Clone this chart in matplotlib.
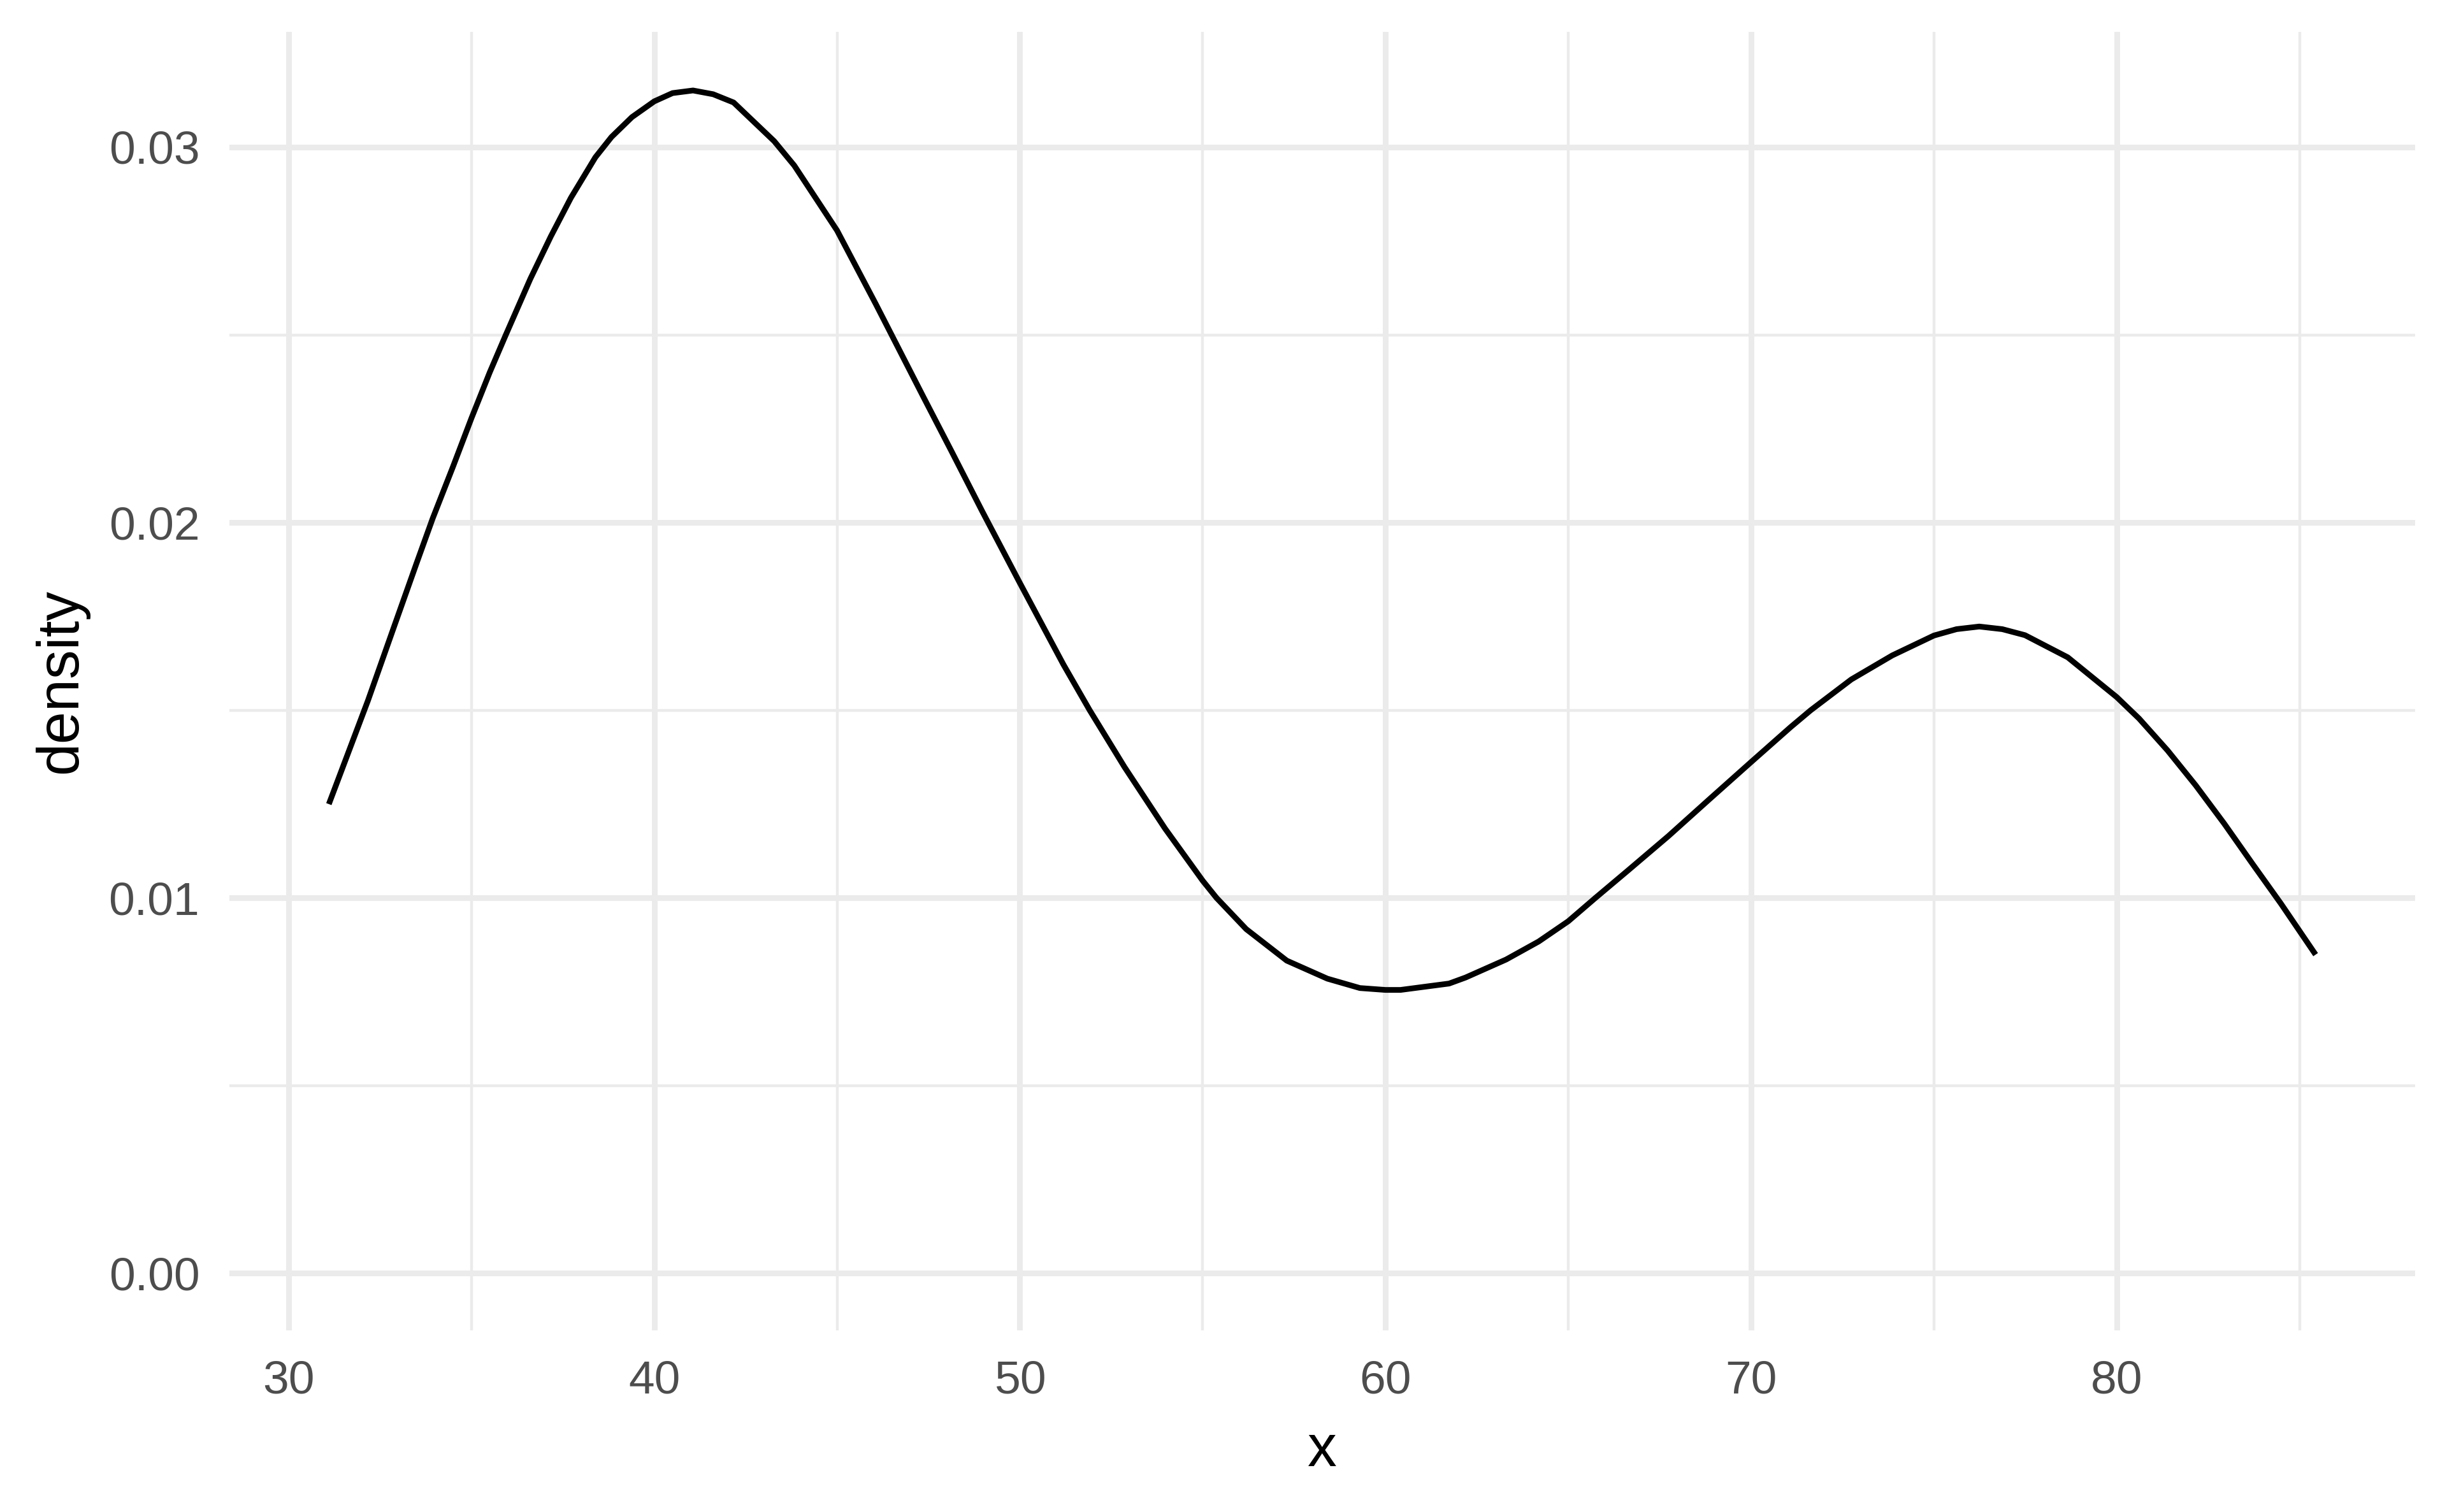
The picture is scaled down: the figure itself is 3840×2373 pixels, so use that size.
import matplotlib
matplotlib.use('Agg')
import matplotlib.pyplot as plt
from matplotlib.ticker import FixedLocator

'DATA READ OFF THE REFERENCE CURVE'

x_vals = [31.10, 32.17, 32.83, 33.50, 33.94, 34.50, 35.00, 35.50, 35.94, 36.61,
          37.17, 37.72, 38.39, 38.83, 39.39, 40.00, 40.50, 41.06, 41.61, 42.17,
          43.28, 43.83, 45.00, 46.06, 47.37, 48.13, 48.97, 50.00, 50.63, 51.19,
          51.91, 52.86, 53.97, 55.00, 55.38, 56.19, 57.30, 58.41, 59.30, 60.00,
          60.41, 61.74, 62.19, 63.30, 64.19, 65.00, 65.74, 66.63, 67.74, 68.86,
          70.00, 71.08, 71.63, 72.74, 73.86, 75.00, 75.62, 76.24, 76.87, 77.49,
          78.66, 80.00, 80.61, 81.39, 82.16, 82.94, 83.72, 84.49, 85.00, 85.44]
density = [0.01250, 0.01526, 0.01708, 0.01892, 0.02011, 0.02150, 0.02278, 0.02400, 0.02500, 0.02649,
           0.02762, 0.02865, 0.02973, 0.03027, 0.03080, 0.03122, 0.03144, 0.03151, 0.03141, 0.03119,
           0.03016, 0.02951, 0.02778, 0.02582, 0.02333, 0.02190, 0.02030, 0.01839, 0.01724, 0.01622,
           0.01500, 0.01349, 0.01185, 0.01046, 0.01000, 0.00917, 0.00833, 0.00785, 0.00760, 0.00755,
           0.00755, 0.00772, 0.00788, 0.00836, 0.00884, 0.00938, 0.01000, 0.01073, 0.01165, 0.01263,
           0.01362, 0.01455, 0.01500, 0.01582, 0.01646, 0.01699, 0.01716, 0.01723, 0.01716, 0.01700,
           0.01641, 0.01535, 0.01478, 0.01393, 0.01300, 0.01198, 0.01090, 0.00985, 0.00912, 0.00849]

x_major = [30, 40, 50, 60, 70, 80]
x_minor = [35, 45, 55, 65, 75, 85]
y_major = [0.00, 0.01, 0.02, 0.03]
y_minor = [0.005, 0.015, 0.025]
y_ticklabels = ['0.00', '0.01', '0.02', '0.03']

'STYLE (ggplot theme_minimal look)'

plt.rcParams['font.family'] = ['Liberation Sans', 'DejaVu Sans']
grid_col = '#EBEBEB'
text_col = '#4D4D4D'
lw_major = 1.07  # R lwd 0.5mm at 600 dpi
lw_minor = 0.53

fig = plt.figure(figsize=(6.4, 3.955), dpi=600)
ax = fig.add_axes([0.09375, 0.1201, 0.8932, 0.8588])

ax.plot(x_vals, density, color='black', linewidth=lw_major,
        solid_capstyle='butt', solid_joinstyle='round', zorder=3)

ax.set_xlim(28.38, 88.16)
ax.set_ylim(-0.00152, 0.03307)

ax.xaxis.set_major_locator(FixedLocator(x_major))
ax.xaxis.set_minor_locator(FixedLocator(x_minor))
ax.yaxis.set_major_locator(FixedLocator(y_major))
ax.yaxis.set_minor_locator(FixedLocator(y_minor))
ax.set_yticklabels(y_ticklabels)

ax.grid(which='major', color=grid_col, linewidth=lw_major)
ax.grid(which='minor', color=grid_col, linewidth=lw_minor)
ax.set_axisbelow(True)

for s in ax.spines.values():
    s.set_visible(False)

ax.tick_params(which='both', length=0, labelsize=8.8, labelcolor=text_col)
ax.tick_params(axis='x', pad=5.6)
ax.tick_params(axis='y', pad=5.6)

ax.set_xlabel('x', fontsize=11, color='black', va='baseline')
ax.xaxis.set_label_coords(0.5, -0.1045)
ax.set_ylabel('density', fontsize=11, color='black', va='baseline')
ax.yaxis.set_label_coords(-0.0698, 0.5)

fig.savefig('out.png', dpi=600, facecolor='white')
